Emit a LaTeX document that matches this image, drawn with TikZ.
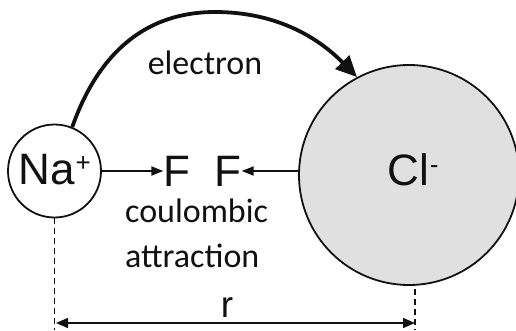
\documentclass[tikz,border=0pt]{standalone}
\usepackage{fontspec}
\setmainfont{Liberation Sans}
\newfontfamily\calfont{Carlito}
\usepackage{xcolor}
\usepackage{tikz}
\usetikzlibrary{arrows.meta,positioning,calc}
\definecolor{ink}{HTML}{111111}
\definecolor{anion}{HTML}{E0E0E0}
\tikzset{
  ion/.style={circle, draw=ink, line width=1.8pt, inner sep=0pt,
              font=\fontsize{44}{50}\selectfont, text=ink, text height=32pt},
  sym/.style={inner sep=0pt, font=\fontsize{44}{50}\selectfont, text=ink},
  lbl/.style={inner sep=0pt, font=\calfont\fontsize{34}{45}\selectfont, text=ink},
  ar/.style={-{Triangle[length=12pt,width=9pt]}, line width=1.8pt, draw=ink},
  el/.style={-{Triangle[length=21pt,width=19pt]}, line width=3.8pt, draw=ink},
  dsh/.style={line width=1.5pt, draw=ink, dash pattern=on 6pt off 4pt},
  dimn/.style={{Triangle[length=12pt,width=10pt]}-{Triangle[length=12pt,width=10pt]},
               line width=1.5pt, draw=ink},
}
\newcommand{\upmark}[2]{\raisebox{#1}{\fontsize{26}{26}\selectfont #2}}

\begin{document}
\begin{tikzpicture}[x=1pt,y=1pt]
\useasboundingbox (0,0) rectangle (516,330);

% the two ions
\node[ion, minimum size=93pt, text depth=6pt] (na) at (54.5,159)
  {Na\kern1pt\upmark{13pt}{+}};
\node[ion, fill=anion, minimum size=220pt, text depth=12pt] (cl) at (409,155)
  {\hspace{8pt}Cl\kern1pt\upmark{12pt}{-}};

% forces
\node[sym] (f1) at (177,159) {F};
\node[sym] (f2) at (228,159) {F};
\draw[ar] (na) -- (f1);
\draw[ar] (cl.west |- f2) -- (f2);

\node[lbl, anchor=base] (elec) at (205,255) {electron};
\node[lbl, anchor=north west, align=left] (coul) at (125,131) {coulombic\\attraction};

% electron transfer
\coordinate (top) at (215,318);
\draw[el] (na.68) .. controls (94,265) and (136,318) .. (top)
  .. controls (275,318) and (317,293.6) .. (cl.118);

% distance r
\coordinate (ra) at (56,7);
\coordinate (rb) at (415,7);
\coordinate (clfoot) at (415,41);
\draw[dsh] (na) -- (na |- 0,0);
\draw[dsh] (clfoot) -- (rb |- 0,0);
\draw[dimn] (ra) -- (rb);
\node[sym, font=\fontsize{37}{40}\selectfont, anchor=base] (dist) at (227,13) {r};
\end{tikzpicture}
\end{document}
